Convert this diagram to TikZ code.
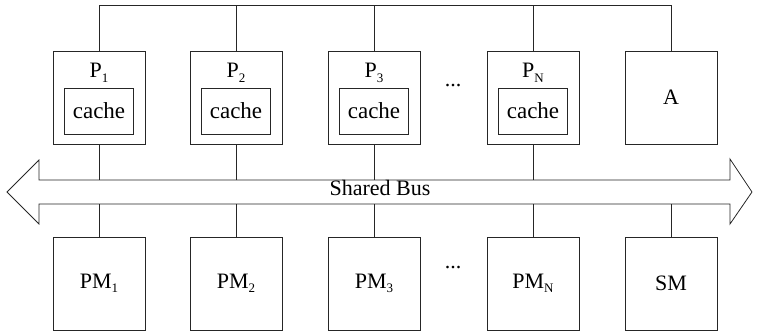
\documentclass[tikz,border=0pt]{standalone}
\usepackage{fontspec}
\setmainfont{Liberation Serif}
\newcommand\sbs[1]{\raisebox{-0.45ex}{\fontsize{13}{13}\selectfont #1}}
\begin{document}
\begin{tikzpicture}[x=1pt,y=-1pt,
  ln/.style={draw=black!85,line width=0.8pt},
  box/.style={ln,minimum width=92pt,minimum height=93pt,inner sep=0pt},
  cachebox/.style={ln,minimum width=69pt,minimum height=46pt,inner sep=0pt,font=\fontsize{23}{23}\selectfont},
  lbl/.style={inner sep=0pt,font=\fontsize{22}{22}\selectfont}]
\useasboundingbox (0,0) rectangle (757,334);
% top line and bus coordinates
\coordinate (top) at (0,5);
\coordinate (bustop) at (0,180);
\coordinate (busbot) at (0,204);
% processor boxes
\foreach \n/\x/\s in {1/99/1,2/236/2,3/374/3,N/533/N}{
  \node[box] (P\n) at (\x,97.5) {};
  \node[cachebox] (C\n) at (\x,111) {cache};
  \node[lbl] (L\n) at (\x,73) {P\sbs{\s}};
}
\node[box,lbl] (A) at (671,97.5) {A};
% memory boxes
\foreach \n/\x/\s in {1/99/1,2/236/2,3/374/3,N/533/N}{
  \node[box,lbl] (PM\n) at (\x,283.5) {PM\sbs{\s}};
}
\node[box,lbl] (SM) at (671,283.5) {SM};
\node[lbl] (dots1) at (453,86) {...};
\node[lbl] (dots2) at (453,268) {...};
% bus
\draw[ln,line join=miter] (39,180) -- (730,180) -- (730,159) -- (752,192) -- (730,224) -- (730,204)
  -- (39,204) -- (39,224) -- (7,192) -- (39,160) -- cycle;
\node[lbl] (bus) at (380,188) {Shared Bus};
% top connectors
\draw[ln] (P1.north) |- (A.north |- top) -- (A.north);
\foreach \n in {2,3,N}{ \draw[ln] (P\n.north) -- (P\n.north |- top); }
% connectors to bus
\foreach \n in {1,2,3,N}{
  \draw[ln] (P\n.south) -- (P\n.south |- bustop);
  \draw[ln] (PM\n.north) -- (PM\n.north |- busbot);
}
\draw[ln] (SM.north) -- (SM.north |- busbot);
\end{tikzpicture}
\end{document}
